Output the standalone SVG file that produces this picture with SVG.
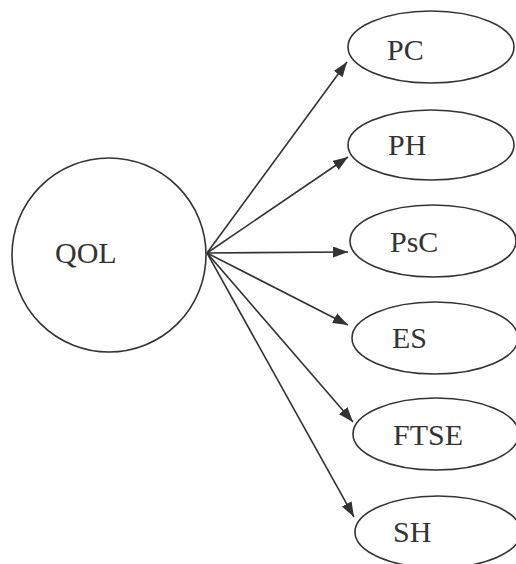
<svg xmlns="http://www.w3.org/2000/svg" width="516" height="564" viewBox="0 0 516 564">
<style>
.n{fill:none;stroke:#333;stroke-width:1.6}
.t{font-family:"Liberation Serif","Times New Roman",serif;font-size:30px;fill:#333}
.c{stroke:#333;stroke-width:1.6;fill:none;marker-end:url(#ah)}
</style>
<defs>
<marker id="ah" markerUnits="userSpaceOnUse" markerWidth="16" markerHeight="12" refX="15" refY="5.5" orient="auto">
<path d="M0,0 L15,5.5 L0,11 z" fill="#333"/>
</marker>
</defs>
<rect width="516" height="564" fill="#fff"/>
<g id="connectors">
<path class="c" d="M207,253 L347,62"/>
<path class="c" d="M207,253 L348,157"/>
<path class="c" d="M207,253 L348,252"/>
<path class="c" d="M207,253 L348,325"/>
<path class="c" d="M207,253 L353,422"/>
<path class="c" d="M207,253 L354,517"/>
</g>
<g id="QOL"><circle class="n" cx="109" cy="255" r="97"/><text class="t" x="55" y="263">QOL</text></g>
<g id="PC"><ellipse class="n" cx="431" cy="47" rx="83" ry="36"/><text class="t" x="387" y="60">PC</text></g>
<g id="PH"><ellipse class="n" cx="431" cy="145" rx="83" ry="35"/><text class="t" x="388" y="155">PH</text></g>
<g id="PsC"><ellipse class="n" cx="433" cy="241" rx="83" ry="36"/><text class="t" x="390" y="252">PsC</text></g>
<g id="ES"><ellipse class="n" cx="435" cy="338" rx="83" ry="36"/><text class="t" x="392" y="348">ES</text></g>
<g id="FTSE"><ellipse class="n" cx="436" cy="434" rx="83" ry="36"/><text class="t" x="393" y="445">FTSE</text></g>
<g id="SH"><ellipse class="n" cx="438" cy="532" rx="83" ry="36"/><text class="t" x="393" y="542">SH</text></g>
</svg>
